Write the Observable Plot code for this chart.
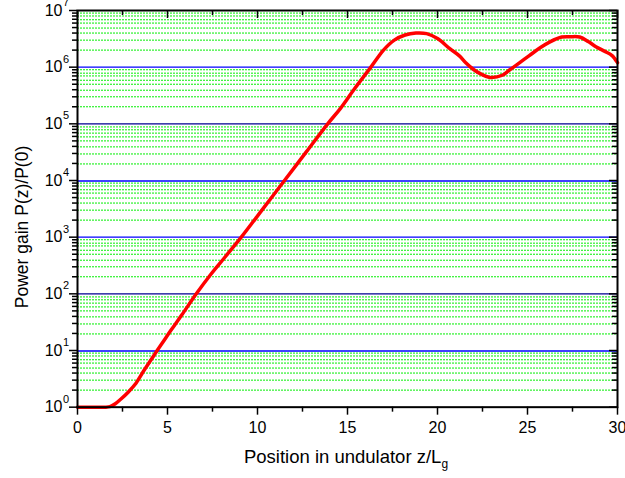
<!DOCTYPE html>
<html>
<head>
<meta charset="utf-8">
<script src="https://cdn.jsdelivr.net/npm/d3@7"></script>
<script src="https://cdn.jsdelivr.net/npm/@observablehq/plot@0.6"></script>
<style>
  html, body { margin: 0; padding: 0; background: #fff; }
  svg { display: block; }
</style>
</head>
<body>
<div id="chart"></div>
<script>
// Position in undulator z/Lg
const zValues = [0, 0.5, 1, 1.5, 1.8, 2.1, 2.4, 2.8, 3.25, 3.7, 4.3, 4.75, 5.2, 5.8, 6.6, 7.4, 8.2, 9.1, 10.3, 11.5, 12.7, 13.9, 14.6, 15.4, 16.3, 17.0, 17.6, 18.2, 18.8, 19.4, 20.0, 20.7, 21.2, 21.6, 22.0, 22.4, 22.9, 23.6, 24.0, 24.4, 25.1, 25.7, 26.25, 26.9, 27.4, 27.9, 28.4, 28.8, 29.3, 29.7, 30];
// Power gain P(z)/P(0)
const gainValues = [1, 1, 1, 1.0, 1.02, 1.15, 1.38, 1.82, 2.65, 4.47, 8.7, 14.1, 22.9, 42.7, 100, 219, 447, 1000, 3160, 1e4, 3.16e4, 1e5, 1.86e5, 4.2e5, 1e6, 2e6, 3e6, 3.7e6, 4e6, 3.9e6, 3.2e6, 2.1e6, 1.6e6, 1.17e6, 9.1e5, 7.6e5, 6.6e5, 7.2e5, 8.9e5, 1.1e6, 1.6e6, 2.2e6, 2.8e6, 3.4e6, 3.45e6, 3.4e6, 2.8e6, 2.3e6, 1.9e6, 1.6e6, 1.2e6];

const xMajorTicks = [0, 5, 10, 15, 20, 25, 30];
const xMinorTicks = [2.5, 7.5, 12.5, 17.5, 22.5, 27.5];
const yDecades = [1, 10, 100, 1000, 1e4, 1e5, 1e6, 1e7];
const yExponents = ["0", "1", "2", "3", "4", "5", "6", "7"];
const yMinorTicks = [];
for (let k = 0; k < 7; k++) for (let m = 2; m <= 9; m++) yMinorTicks.push(m * Math.pow(10, k));
const xLabel = "Position in undulator z/L";
const xLabelSub = "g";
const yLabel = "Power gain P(z)/P(0)";

const data = zValues.map((z, i) => ({z, g: gainValues[i]}));
const decadeData = yDecades.map((v, i) => ({v, e: yExponents[i]}));

const W = 625, H = 478;
const mL = 77, mR = 8, mT = 10, mB = 71.33;
const fw = W - mL - mR, fh = H - mT - mB;
const font = "Arial, 'Liberation Sans', sans-serif";

// split grid lines so that 1px lines are anti-aliased alike (half-pixel nudge only)
const yPix = v => mT + fh * (1 - Math.log10(v) / 7);
const nearInt = v => { const f = yPix(v) - Math.floor(yPix(v)); return f < 0.25 || f > 0.75; };
const majorsGrid = yDecades.slice(1, 7);
const minorStyle = {stroke: "#00ee00", strokeWidth: 1, strokeDasharray: "2,1"};
const majorStroke = d => (d === 100 || d === 1e5) ? "#000090" : "#0000ff";

const plot = Plot.plot({
  width: W,
  height: H,
  marginLeft: mL,
  marginRight: mR,
  marginTop: mT,
  marginBottom: mB,
  style: {fontFamily: font, background: "white"},
  x: {domain: [0, 30]},
  y: {type: "log", domain: [1, 1e7]},
  marks: [
    // minor grid
    Plot.ruleY(yMinorTicks.filter(v => !nearInt(v)), {y: d => d, ...minorStyle}),
    Plot.ruleY(yMinorTicks.filter(nearInt), {y: d => d, dy: 0.5, ...minorStyle}),
    // major grid
    Plot.ruleY(majorsGrid.filter(v => !nearInt(v)), {y: d => d, stroke: majorStroke, strokeWidth: 1.3}),
    Plot.ruleY(majorsGrid.filter(nearInt), {y: d => d, dy: 0.5, stroke: majorStroke, strokeWidth: 1.3}),
    // curve
    Plot.line(data, {x: "z", y: "g", stroke: "#ff0000", strokeWidth: 3.5, curve: "catmull-rom", strokeLinejoin: "round"}),
    // bottom axis ticks (outward)
    Plot.axisX({anchor: "bottom", ticks: xMajorTicks, tickSize: 8, tickFormat: () => "", strokeWidth: 1.5, label: null}),
    Plot.axisX({anchor: "bottom", ticks: xMinorTicks, tickSize: 5, tickFormat: () => "", strokeWidth: 1.5, label: null}),
    // left axis ticks (outward)
    Plot.axisY({anchor: "left", ticks: yDecades, tickSize: 8, tickFormat: () => "", strokeWidth: 1.5, label: null}),
    Plot.axisY({anchor: "left", ticks: yMinorTicks, tickSize: 5, tickFormat: () => "", strokeWidth: 1.5, label: null}),
    // top ticks (inward)
    Plot.tickX(xMajorTicks, {x: d => d, insetBottom: fh - 8, stroke: "black", strokeWidth: 1.5}),
    Plot.tickX(xMinorTicks, {x: d => d, insetBottom: fh - 5, stroke: "black", strokeWidth: 1.5}),
    // right ticks (inward)
    Plot.tickY(yDecades, {y: d => d, insetLeft: fw - 8, stroke: "black", strokeWidth: 1.5}),
    Plot.tickY(yMinorTicks, {y: d => d, insetLeft: fw - 5, stroke: "black", strokeWidth: 1.5}),
    // frame
    Plot.frame({stroke: "black", strokeWidth: 2}),
    // x tick labels
    Plot.text(xMajorTicks, {x: d => d, frameAnchor: "bottom", dy: 21, text: d => String(d), fontSize: 16, fill: "black", lineAnchor: "middle"}),
    // y tick labels: base and exponent
    Plot.text(decadeData, {y: "v", frameAnchor: "left", dx: -15, text: () => "10", textAnchor: "end", fontSize: 16, fill: "black", lineAnchor: "middle"}),
    Plot.text(decadeData, {y: "v", frameAnchor: "left", dx: -14.5, dy: -8, text: "e", textAnchor: "start", fontSize: 11, fill: "black", lineAnchor: "middle"})
  ]
});

const svg = d3.select(plot);
// x axis label with subscript
const xt = svg.append("text")
  .attr("x", 346)
  .attr("y", 463)
  .attr("text-anchor", "middle")
  .attr("font-family", font)
  .attr("font-size", 18.5)
  .attr("fill", "black");
xt.append("tspan").text(xLabel);
xt.append("tspan").attr("font-size", 12).attr("dy", 5).text(xLabelSub);
// y axis label
svg.append("text")
  .attr("transform", `translate(28, 227) rotate(-90)`)
  .attr("text-anchor", "middle")
  .attr("font-family", font)
  .attr("font-size", 17.5)
  .attr("fill", "black")
  .text(yLabel);

document.getElementById("chart").appendChild(plot);
</script>
</body>
</html>
